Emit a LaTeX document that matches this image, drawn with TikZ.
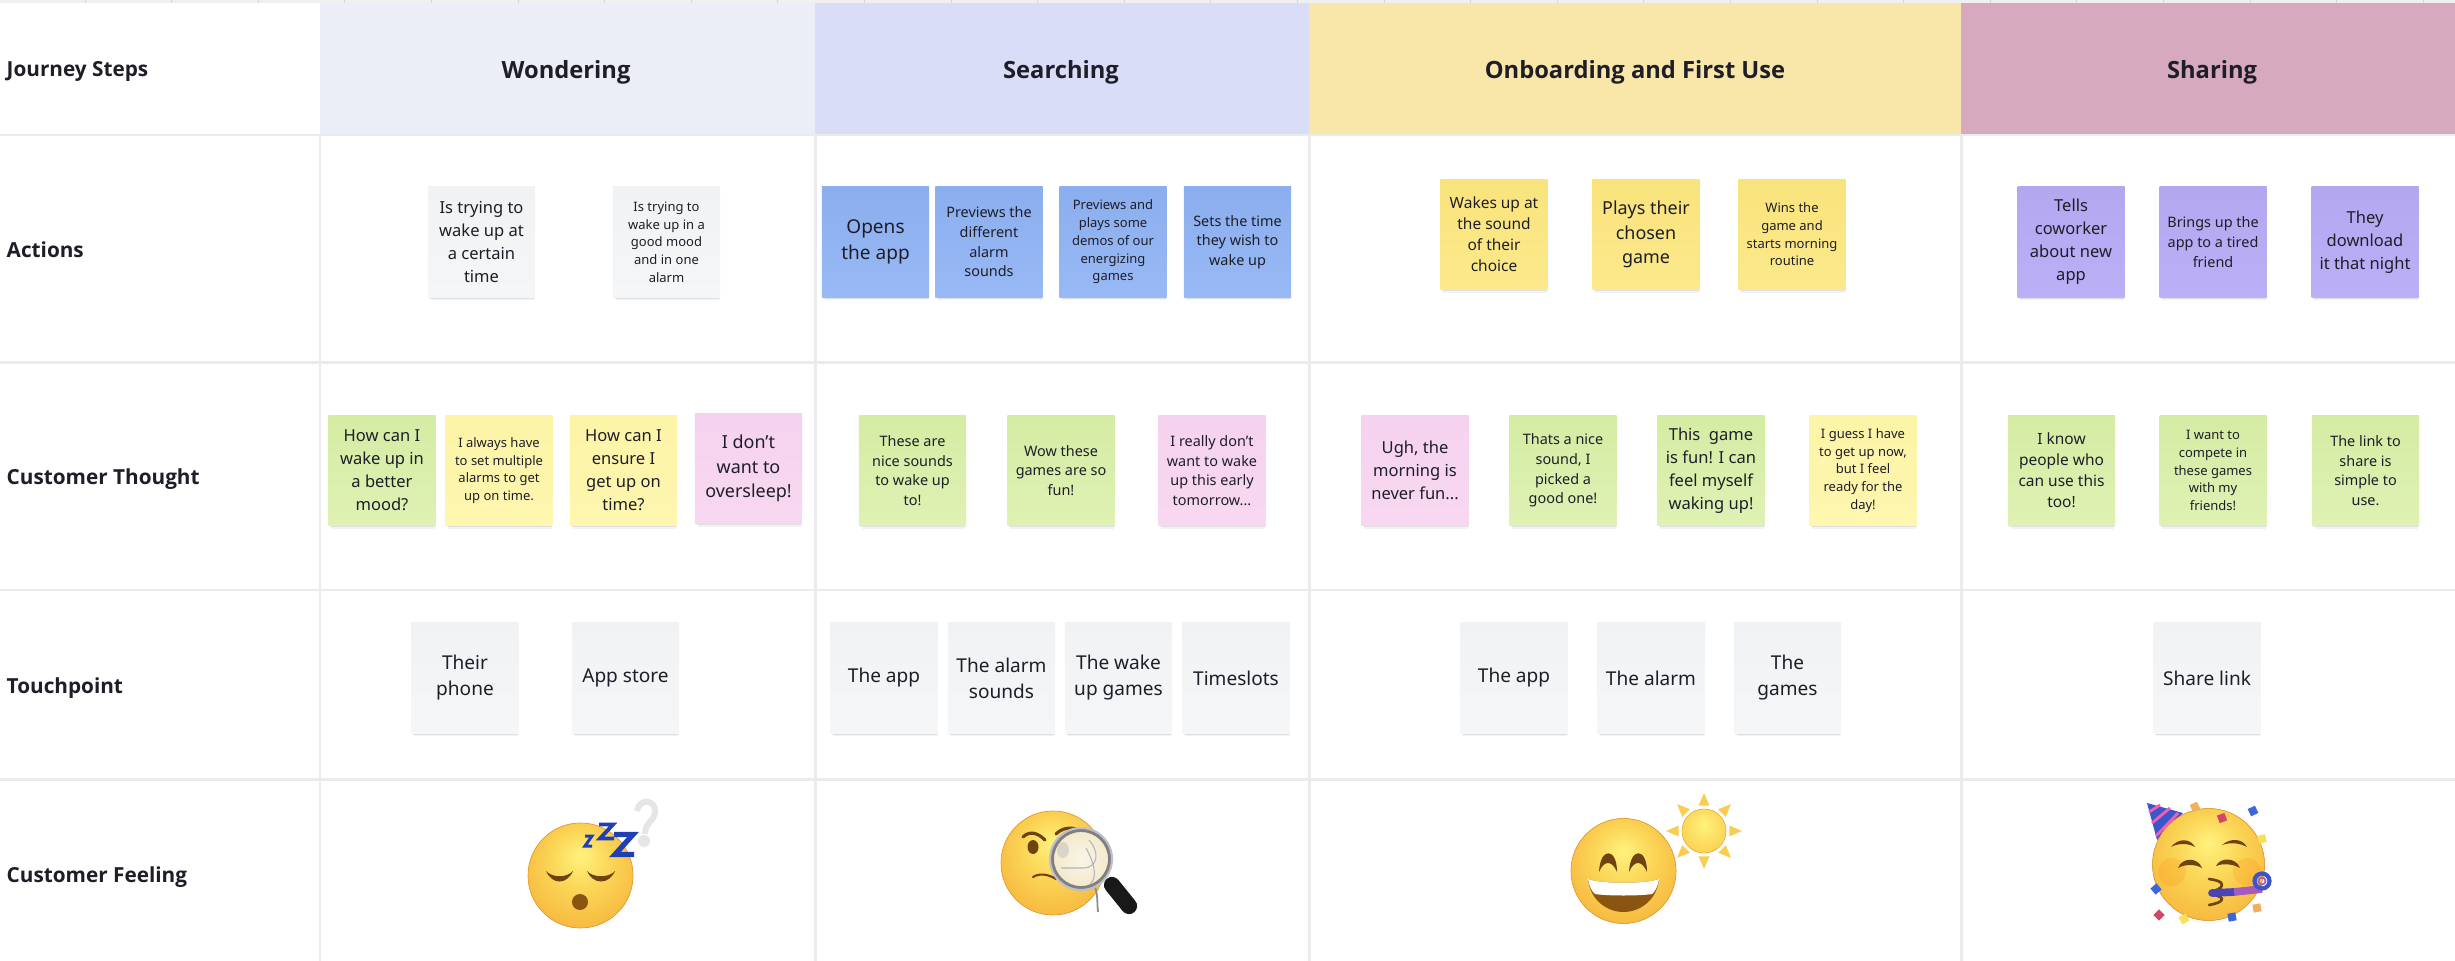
\documentclass[tikz,border=0pt]{standalone}
\usepackage{fontspec}
\setmainfont{Noto Sans}
\newfontfamily\labelfont{Open Sans}
\usetikzlibrary{shadows}
\definecolor{gridcol}{HTML}{EBEBEE}
\definecolor{stripcol}{HTML}{F0F0F0}
\definecolor{inkcol}{HTML}{1E1E28}
\definecolor{hdwonder}{HTML}{ECEEF7}
\definecolor{hdsearch}{HTML}{D9DDF8}
\definecolor{hdonboard}{HTML}{F8E7A8}
\definecolor{hdshare}{HTML}{D7A9BE}
\definecolor{grayA}{HTML}{F1F2F4}
\definecolor{grayB}{HTML}{F5F6F8}
\definecolor{blueA}{HTML}{8BAEEE}
\definecolor{blueB}{HTML}{98B9F5}
\definecolor{yelA}{HTML}{F9E37C}
\definecolor{yelB}{HTML}{FCE98B}
\definecolor{violetA}{HTML}{B3A7F0}
\definecolor{violetB}{HTML}{BBB0F6}
\definecolor{greenA}{HTML}{D5ECA3}
\definecolor{greenB}{HTML}{DFF1B4}
\definecolor{paleA}{HTML}{FCF4A6}
\definecolor{paleB}{HTML}{FFF6B0}
\definecolor{pinkA}{HTML}{F5D2EF}
\definecolor{pinkB}{HTML}{F8D8F0}
\definecolor{faceA}{HTML}{FFF27E}
\definecolor{faceB}{HTML}{FBD657}
\definecolor{faceC}{HTML}{F6B93F}
\definecolor{faceD}{HTML}{EE9F33}
\definecolor{browcol}{HTML}{6F430F}
\definecolor{mouthcol}{HTML}{8A5510}
\definecolor{zcol}{HTML}{1F3FB5}
\definecolor{hatcol}{HTML}{3C55C9}
\definecolor{pinkcol}{HTML}{EC5FB4}
\definecolor{crimson}{HTML}{D24668}
\definecolor{confblue}{HTML}{3F66D8}
\definecolor{confyel}{HTML}{F7E05A}
\definecolor{conforg}{HTML}{F0B060}
\definecolor{lensA}{HTML}{F9F5E6}
\definecolor{lensB}{HTML}{F3E6C4}
\definecolor{lensC}{HTML}{DCC9A0}
\pgfdeclareradialshading{facesh}{\pgfpoint{0bp}{10bp}}{color(0bp)=(faceA); color(14bp)=(faceB); color(30bp)=(faceC); color(50bp)=(faceD)}
\pgfdeclareradialshading{sunsh}{\pgfpoint{0bp}{8bp}}{color(0bp)=(faceA); color(25bp)=(faceB); color(50bp)=(faceC)}
\pgfdeclareradialshading{lenssh}{\pgfpoint{0bp}{0bp}}{color(0bp)=(lensA); color(30bp)=(lensB); color(50bp)=(lensC)}
\begin{document}
\begin{tikzpicture}[x=0.01cm,y=-0.01cm,
    note/.style={rectangle, minimum width=1.07cm, minimum height=1.1cm, inner sep=0pt, align=center, text=inkcol,
        drop shadow={shadow xshift=0.01cm, shadow yshift=-0.05cm, shadow scale=0.97, opacity=0.05, fill=black},
        drop shadow={shadow xshift=0.005cm, shadow yshift=-0.025cm, shadow scale=0.99, opacity=0.07, fill=black}},
    graynote/.style={note, top color=grayA, bottom color=grayB},
    bluenote/.style={note, top color=blueA, bottom color=blueB},
    yelnote/.style={note, top color=yelA, bottom color=yelB},
    violetnote/.style={note, top color=violetA, bottom color=violetB},
    greennote/.style={note, top color=greenA, bottom color=greenB},
    palenote/.style={note, top color=paleA, bottom color=paleB},
    pinknote/.style={note, top color=pinkA, bottom color=pinkB},
    fsa/.style={font=\fontsize{3.7pt}{5.04pt}\selectfont},
    fsb/.style={font=\fontsize{4.1pt}{5.58pt}\selectfont},
    fsc/.style={font=\fontsize{4.4pt}{5.98pt}\selectfont},
    fsd/.style={font=\fontsize{4.7pt}{6.54pt}\selectfont},
    fse/.style={font=\fontsize{5.1pt}{6.94pt}\selectfont},
    fsf/.style={font=\fontsize{5.42pt}{7.4pt}\selectfont},
    rowlabel/.style={anchor=west, inner sep=0pt, text=inkcol, execute at begin node=\strut, font=\fontsize{5.9pt}{7pt}\selectfont\labelfont\bfseries},
    steplabel/.style={inner sep=0pt, text=inkcol, execute at begin node=\strut, font=\fontsize{6.75pt}{9pt}\selectfont\labelfont\bfseries},
    gridline/.style={draw=gridcol, line width=0.85pt},
    browline/.style={draw=browcol, line cap=round}
]
\useasboundingbox (0,0) rectangle (2455,961);
\fill[white] (0,0) rectangle (2455,961);
\fill[stripcol] (0,0) rectangle (2455,3);
\foreach \tx in {85,171.6,...,2455} \draw[black!16, line width=0.2pt] (\tx,0) -- (\tx,3);
\fill[hdwonder] (320,3) rectangle (815,134);
\fill[hdsearch] (815,3) rectangle (1309,134);
\fill[hdonboard] (1309,3) rectangle (1961,134);
\fill[hdshare] (1961,3) rectangle (2455,134);
\foreach \gy in {135,362.5,590,779} \draw[gridline] (0,\gy) -- (2455,\gy);
\foreach \gx in {320,815,1309,1961} \draw[gridline] (\gx,136) -- (\gx,961);

\node[rowlabel] (journey) at (6,72) {Journey Steps};
\node[rowlabel] (actions) at (6,253) {Actions};
\node[rowlabel] (thought) at (6,480) {Customer Thought};
\node[rowlabel] (touch) at (6,689) {Touchpoint};
\node[rowlabel] (feeling) at (6,878) {Customer Feeling};
\node[steplabel] (wondering) at (566,72) {Wondering};
\node[steplabel] (searching) at (1061,72) {Searching};
\node[steplabel] (onboarding) at (1635,72) {Onboarding and First Use};
\node[steplabel] (sharing) at (2212,72) {Sharing};

\node[graynote,fsd] (actW1) at (481.5,242) {Is trying to\\wake up at\\a certain\\time};
\node[graynote,fsa] (actW2) at (666.5,242) {Is trying to\\wake up in a\\good mood\\and in one\\alarm};
\node[bluenote,fsf] (actS1) at (875.5,242) {Opens\\the app};
\node[bluenote,fsb] (actS2) at (989,242) {Previews the\\different\\alarm\\sounds};
\node[bluenote,fsa] (actS3) at (1113,242) {Previews and\\plays some\\demos of our\\energizing\\games};
\node[bluenote,fsb] (actS4) at (1237.5,242) {Sets the time\\they wish to\\wake up};
\node[yelnote,fsc] (actO1) at (1494,234.5) {Wakes up at\\the sound\\of their\\choice};
\node[yelnote,fse] (actO2) at (1646,234.5) {Plays their\\chosen\\game};
\node[yelnote,fsa] (actO3) at (1792,234.5) {Wins the\\game and\\starts morning\\routine};
\node[violetnote,fsd] (actH1) at (2071,242) {Tells\\coworker\\about new\\app};
\node[violetnote,fsb] (actH2) at (2213,242) {Brings up the\\app to a tired\\friend};
\node[violetnote,fsd] (actH3) at (2365,242) {They\\download\\it that night};

\node[greennote,fsd] (thoW1) at (382,470.5) {How can I\\wake up in\\a better\\mood?};
\node[palenote,fsa] (thoW2) at (499,470.5) {I always have\\to set multiple\\alarms to get\\up on time.};
\node[palenote,fsd] (thoW3) at (623.5,470.5) {How can I\\ensure I\\get up on\\time?};
\node[pinknote,fse] (thoW4) at (748.5,468.5) {I don't\\want to\\oversleep!};
\node[greennote,fsb] (thoS1) at (912.5,470.5) {These are\\nice sounds\\to wake up\\to!};
\node[greennote,fsb] (thoS2) at (1061,470.5) {Wow these\\games are so\\fun!};
\node[pinknote,fsb] (thoS3) at (1212,470.5) {I really don't\\want to wake\\up this early\\tomorrow...};
\node[pinknote,fsd] (thoO1) at (1415,470.5) {Ugh, the\\morning is\\never fun...};
\node[greennote,fsb] (thoO2) at (1563,470.5) {Thats a nice\\sound, I\\picked a\\good one!};
\node[greennote,fsd] (thoO3) at (1711,470.5) {This\ \ game\\is fun! I can\\feel myself\\waking up!};
\node[palenote,fsa] (thoO4) at (1863,470.5) {I guess I have\\to get up now,\\but I feel\\ready for the\\day!};
\node[greennote,fsc] (thoH1) at (2061.5,470.5) {I know\\people who\\can use this\\too!};
\node[greennote,fsa] (thoH2) at (2213,470.5) {I want to\\compete in\\these games\\with my\\friends!};
\node[greennote,fsb] (thoH3) at (2365.5,470.5) {The link to\\share is\\simple to\\use.};

\node[graynote,fsf] (touW1) at (465,678) {Their\\phone};
\node[graynote,fsf] (touW2) at (625.5,678) {App store};
\node[graynote,fsf] (touS1) at (884,678) {The app};
\node[graynote,fsf] (touS2) at (1001.5,678) {The alarm\\sounds};
\node[graynote,fsf] (touS3) at (1118.5,678) {The wake\\up games};
\node[graynote,fsf] (touS4) at (1236,678) {Timeslots};
\node[graynote,fsf] (touO1) at (1514,678) {The app};
\node[graynote,fsf] (touO2) at (1651,678) {The alarm};
\node[graynote,fsf] (touO3) at (1787.5,678) {The\\games};
\node[graynote,fsf] (touH1) at (2207,678) {Share link};

\fill[shading=facesh, draw=faceD, line width=0.2pt] (580.5,875.5) circle (52.5);
\fill[browcol] (546,871) .. controls (552,878) and (567,878) .. (573,871) .. controls (567,885) and (552,885) .. (546,871) -- cycle;
\fill[browcol] (587,871) .. controls (593,878) and (609,878) .. (615,871) .. controls (609,885) and (593,885) .. (587,871) -- cycle;
\fill[mouthcol] (580,902) circle (8);
\draw[zcol, line width=0.85pt, line join=miter] (585,836) -- (592,836) -- (585,846) -- (592,846);
\draw[zcol, line width=1.1pt, line join=miter] (599,824.5) -- (613,824.5) -- (600,838.5) -- (614,838.5);
\draw[zcol, line width=1.5pt, line join=miter] (614,834.5) -- (633,834.5) -- (615,854.5) -- (634,854.5);
\draw[black!10, line width=1.7pt] (637,811) .. controls (639,798) and (656,799) .. (655,812) .. controls (654,822) and (645,822) .. (645,834);
\fill[black!10] (644,841) circle (6);

\fill[shading=facesh, draw=faceD, line width=0.2pt] (1053,863) circle (52);
\draw[browline, line width=0.9pt] (1023,837) .. controls (1029,831) and (1037,832) .. (1045,840);
\draw[browline, line width=0.9pt] (1056,834) .. controls (1062,828) and (1070,827) .. (1076,829);
\fill[browcol] (1033,847) ellipse (5.5 and 7);
\draw[browline, line width=0.6pt] (1033,877) .. controls (1039,873) and (1048,874) .. (1056,879);
\draw[black!45, line width=0.5pt] (1095,887) .. controls (1098,895) and (1097,904) .. (1098,912);
\draw[black!90, line width=4.6pt, line cap=round] (1112,885) -- (1129,906);
\fill[shading=lenssh, draw=black!50, line width=1.1pt] (1081,859) circle (29);
\draw[blue!20!black!25, line width=0.6pt] (1081,859) circle (31);
\fill[black!25, opacity=0.5] (1063,850) ellipse (6 and 8);
\draw[blue!20!black!30, line width=0.3pt] (1089,840) .. controls (1100,852) and (1098,868) .. (1083,868) .. controls (1072,868) and (1068,868) .. (1061,868);
\draw[blue!20!black!30, line width=0.3pt] (1086,848) .. controls (1098,870) and (1095,880) .. (1090,884);

\fill[shading=facesh, draw=faceD, line width=0.2pt] (1623.5,871) circle (52.5);
\fill[browcol] (1599,872) .. controls (1600,847) and (1617,847) .. (1617,872) .. controls (1612,860) and (1604,860) .. (1599,872) -- cycle;
\fill[browcol] (1629,872) .. controls (1630,847) and (1647,847) .. (1647,872) .. controls (1642,860) and (1634,860) .. (1629,872) -- cycle;
\fill[mouthcol] (1588,879) .. controls (1600,884) and (1647,884) .. (1659,879) .. controls (1657,900) and (1640,912) .. (1623.5,912) .. controls (1607,912) and (1590,900) .. (1588,879) -- cycle;
\fill[white] (1588,879) .. controls (1600,884) and (1647,884) .. (1659,879) .. controls (1658,886) and (1655,892) .. (1652,894) .. controls (1640,896) and (1607,896) .. (1595,894) .. controls (1592,892) and (1589,886) .. (1588,879) -- cycle;
\begin{scope}[shift={(1704,831)}]
\fill[shading=sunsh, draw=faceC, line width=0.2pt] (0,0) circle (22);
\foreach \a in {0,45,...,315} \fill[faceB!70!faceC] (\a-12:26) -- (\a:38) -- (\a+12:26) -- cycle;
\end{scope}

\fill[hatcol] (2147,803) -- (2183,813) -- (2157,840) -- cycle;
\draw[pinkcol, line width=0.8pt] (2149,812) -- (2160,805);
\draw[pinkcol, line width=0.8pt] (2152,823) -- (2170,808);
\draw[pinkcol, line width=0.8pt] (2156,836) -- (2178,813);
\fill[shading=facesh, draw=faceD, line width=0.2pt] (2208.5,864.5) circle (56);
\fill[orange, opacity=0.18] (2172,872) circle (14);
\fill[orange, opacity=0.18] (2247,872) circle (14);
\fill[browcol] (2171,847) .. controls (2178,838) and (2190,838) .. (2195,847) .. controls (2188,843) and (2178,843) .. (2171,847) -- cycle;
\fill[browcol] (2222,845) .. controls (2230,838) and (2242,838) .. (2247,847) .. controls (2240,843) and (2230,842) .. (2222,845) -- cycle;
\fill[browcol] (2178,868) .. controls (2182,857) and (2198,857) .. (2202,868) .. controls (2195,864) and (2185,864) .. (2178,868) -- cycle;
\fill[browcol] (2216,866) .. controls (2220,857) and (2236,857) .. (2240,868) .. controls (2233,864) and (2223,863) .. (2216,866) -- cycle;
\draw[browline, line width=0.75pt, line join=round] (2209,879) .. controls (2215,880) and (2222,881) .. (2222,885) .. controls (2222,889) and (2214,890) .. (2212,893) .. controls (2214,896) and (2222,896) .. (2222,899) .. controls (2222,902) and (2215,904) .. (2209,905);
\draw[hatcol!80!violet, line width=2.2pt, line cap=round] (2212,893) -- (2234,892);
\draw[pinkcol!60!hatcol, line width=2.2pt] (2234,892) -- (2262,889);
\draw[hatcol, line width=1.2pt] (2262,881) circle (7.5);
\draw[pinkcol!60!hatcol, line width=0.5pt] (2262,881) circle (3.5);
\foreach \cx/\cy/\cc/\ca in {2195/807/conforg/25,2222/818/crimson/20,2253/811/confblue/25,2262/839/confyel/15,2156/889/confblue/40,2159/915/crimson/45,2184/919/confyel/30,2232/917/confblue/10,2257/908/conforg/10}
  \fill[\cc, rotate around={\ca:(\cx,\cy)}] (\cx-4,\cy-4) rectangle (\cx+4,\cy+4);
\end{tikzpicture}
\end{document}
